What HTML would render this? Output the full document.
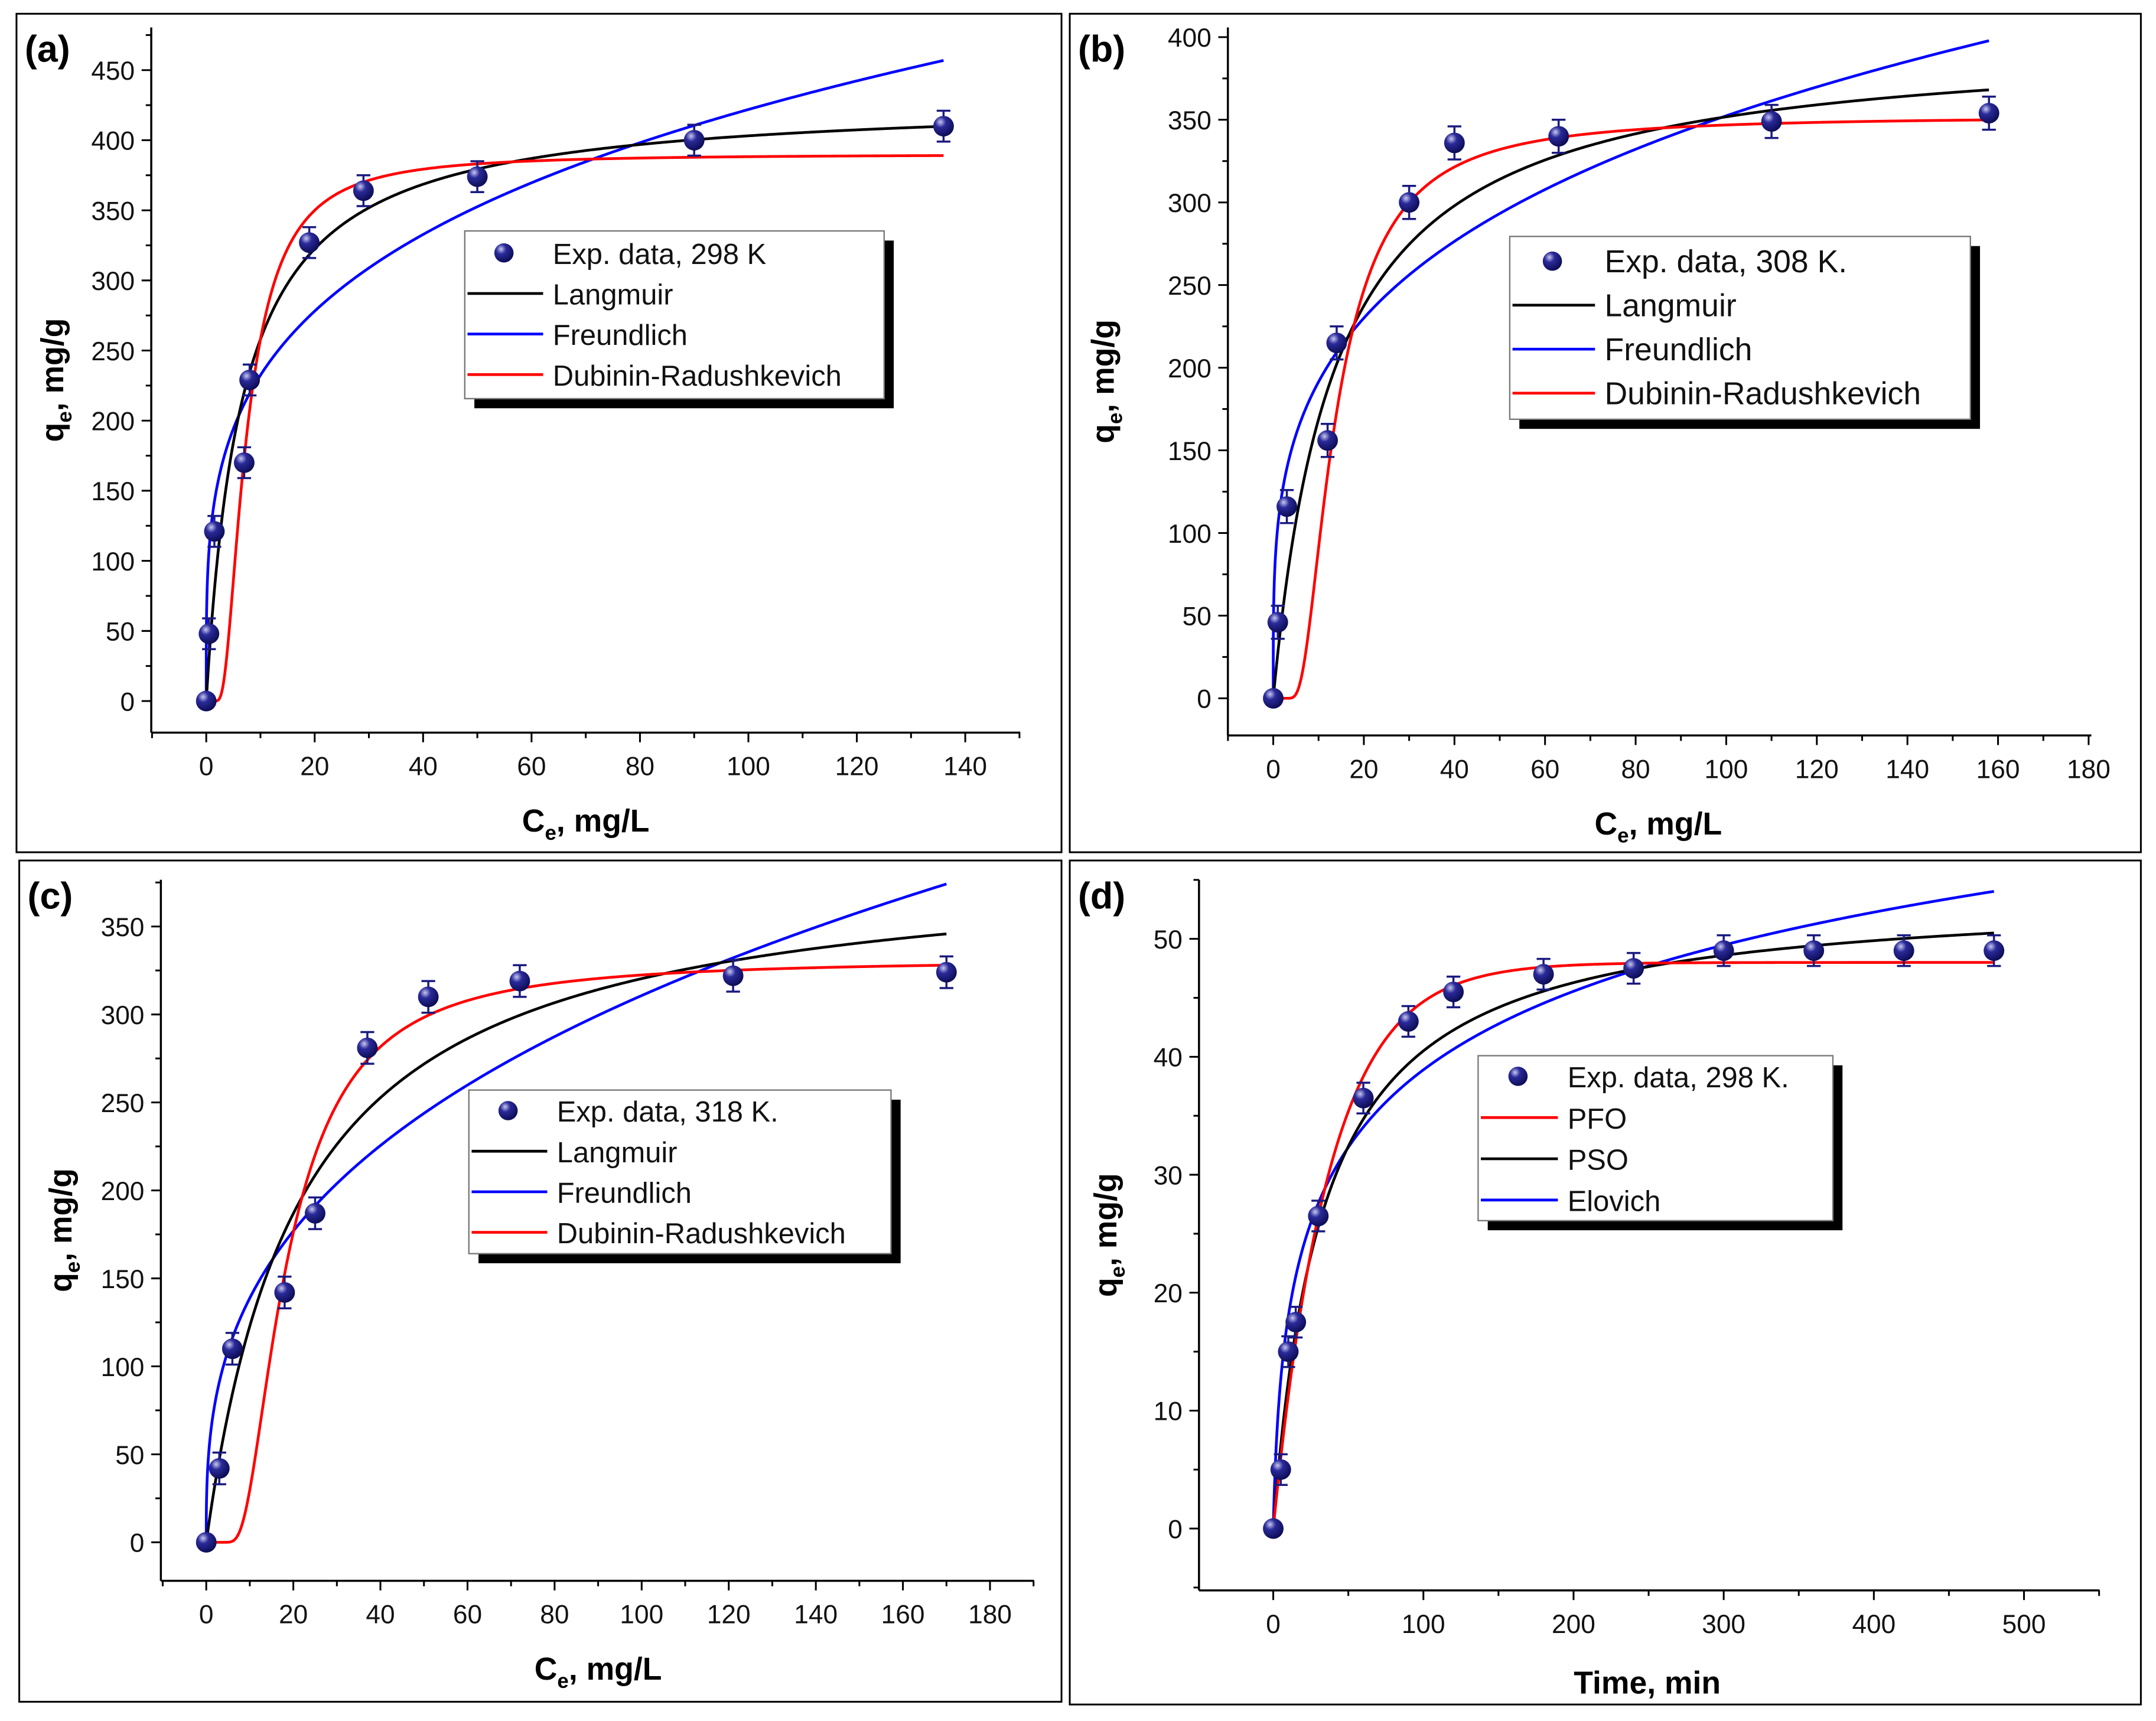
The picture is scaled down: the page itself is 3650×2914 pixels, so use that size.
<!DOCTYPE html>
<html><head><meta charset="utf-8"><style>html,body{margin:0;padding:0;background:#fff}svg{display:block}</style></head>
<body>
<svg id="fig" xmlns="http://www.w3.org/2000/svg" width="3650" height="2914" viewBox="0 0 1568 1252" preserveAspectRatio="none" font-family="'Liberation Sans', Arial, sans-serif">
<defs>
<radialGradient id="ball" cx="0.35" cy="0.3" r="0.75"><stop offset="0" stop-color="#c8c8f0"/><stop offset="0.35" stop-color="#2a2a9a"/><stop offset="1" stop-color="#0a0a50"/></radialGradient>
</defs>
<rect width="1568" height="1252" fill="#fff"/>
</svg>
<script>
// Panel (a) data – 298 K isotherm
const aCe = [0, 0.5, 1.5, 7, 8, 19, 29, 50, 90, 136];
const aQe = [0, 48, 121, 170, 229, 327, 364, 374, 400, 410];
// Panel (b) data – 308 K isotherm
const bCe = [0, 1, 3, 12, 14, 30, 40, 63, 110, 158];
const bQe = [0, 46, 116, 156, 215, 300, 336, 340, 349, 354];
// Panel (c) data – 318 K isotherm
const cCe = [0, 3, 6, 18, 25, 37, 51, 72, 121, 170];
const cQe = [0, 42, 110, 142, 187, 281, 310, 319, 322, 324];
// Panel (d) data – kinetics
const dT = [0, 5, 10, 15, 30, 60, 90, 120, 180, 240, 300, 360, 420, 480];
const dQ = [0, 5, 15, 17.5, 26.5, 36.5, 43, 45.5, 47, 47.5, 49, 49, 49, 49];
// Tick labels
const aXTicks = [0, 20, 40, 60, 80, 100, 120, 140];
const aYTicks = [0, 50, 100, 150, 200, 250, 300, 350, 400, 450];
const bXTicks = [0, 20, 40, 60, 80, 100, 120, 140, 160, 180];
const bYTicks = [0, 50, 100, 150, 200, 250, 300, 350, 400];
const cXTicks = [0, 20, 40, 60, 80, 100, 120, 140, 160, 180];
const cYTicks = [0, 50, 100, 150, 200, 250, 300, 350];
const dXTicks = [0, 100, 200, 300, 400, 500];
const dYTicks = [0, 10, 20, 30, 40, 50];
// Fitted model parameters
const aLang = [430, 0.15], aFr = [128, 0.259], aDR = [390, 45.5];
const bLang = [400, 0.073], bFr = [104, 0.265], bDR = [352, 149];
const cLang = [390, 0.046], cFr = [62, 0.35], cDR = [331, 265];
const dPFO = [48, 0.0267], dPSO = [54, 0.03 / 54], dElo = [0.533, 0.1027];

const NS = 'http://www.w3.org/2000/svg';
const svg = document.getElementById('fig');
function mk(tag, attrs, parent) {
  const e = document.createElementNS(NS, tag);
  for (const k in attrs) e.setAttribute(k, attrs[k]);
  (parent || svg).appendChild(e);
  return e;
}
const lang = p => c => p[0] * p[1] * c / (1 + p[1] * c);
const freu = p => c => c <= 0 ? 0 : p[0] * Math.pow(c, p[1]);
const dr = p => c => { if (c <= 0) return 0; const e = Math.log(1 + 1 / c); return p[0] * Math.exp(-p[1] * e * e); };
const pfo = p => t => p[0] * (1 - Math.exp(-p[1] * t));
const pso = p => t => p[0] * p[0] * p[1] * t / (1 + p[0] * p[1] * t);
const elo = p => t => Math.log(1 + p[0] * t) / p[1];

function panel(cfg) {
  const g = mk('g', {});
  
  
  const fr = mk('rect', {x: cfg.frame[0], y: cfg.frame[1], width: cfg.frame[2], height: cfg.frame[3], fill: 'none', stroke: '#000', 'stroke-width': 1.3}, g);
  
  
  const X = v => cfg.x0 + (v - cfg.xmin) / (cfg.xmax - cfg.xmin) * (cfg.x1 - cfg.x0);
  const Y = v => cfg.y0 - (v - cfg.ymin) / (cfg.ymax - cfg.ymin) * (cfg.y0 - cfg.y1);
  const ax = mk('line', {x1: cfg.axL, y1: cfg.axB, x2: cfg.axR, y2: cfg.axB, stroke: '#000', 'stroke-width': 1.5}, g);
  
  
  const ay = mk('line', {x1: cfg.axL, y1: cfg.axB, x2: cfg.axL, y2: cfg.axT, stroke: '#000', 'stroke-width': 1.5}, g);
  
  
  const xs = cfg.xt[1] - cfg.xt[0];
  for (let v = cfg.xt[0] - xs; v <= cfg.xt[cfg.xt.length - 1] + xs; v += xs / 2) {
    const px = X(v);
    if (px < cfg.axL - 0.5 || px > cfg.axR + 0.5) continue;
    const major = cfg.xt.includes(v);
    mk('line', {x1: px, y1: cfg.axB, x2: px, y2: cfg.axB + (major ? 7 : 4), stroke: '#000', 'stroke-width': 1.3}, g);
  }
  cfg.xt.forEach(v => {
    const t = mk('text', {x: X(v), y: cfg.axB + 31, 'font-size': 19, 'text-anchor': 'middle', fill: '#111'}, g);
    t.textContent = v;
    
    
  });
  const ys = cfg.yt[1] - cfg.yt[0];
  for (let v = cfg.yt[0] - ys; v <= cfg.yt[cfg.yt.length - 1] + ys; v += ys / 2) {
    const py = Y(v);
    if (py > cfg.axB + 0.5 || py < cfg.axT - 0.5) continue;
    const major = cfg.yt.includes(v);
    mk('line', {x1: cfg.axL, y1: py, x2: cfg.axL - (major ? 7 : 4), y2: py, stroke: '#000', 'stroke-width': 1.3}, g);
  }
  cfg.yt.forEach(v => {
    const t = mk('text', {x: cfg.axL - 12, y: Y(v) + 7, 'font-size': 19, 'text-anchor': 'end', fill: '#111'}, g);
    t.textContent = v;
    
    
  });
  const xt = mk('text', {x: cfg.xtX, y: cfg.xtY, 'font-size': 23, 'font-weight': 'bold', 'text-anchor': 'middle'}, g);
  
  
  if (cfg.xTitle) { xt.textContent = cfg.xTitle; }
  else {
    mk('tspan', {}, xt).textContent = 'C';
    mk('tspan', {'font-size': 15, dy: 6}, xt).textContent = 'e';
    mk('tspan', {dy: -6}, xt).textContent = ', mg/L';
  }
  const yt = mk('text', {transform: `translate(${cfg.ytX},${(cfg.axT + cfg.axB) / 2}) rotate(-90)`, 'font-size': 23, 'font-weight': 'bold', 'text-anchor': 'middle'}, g);
  
  
  mk('tspan', {}, yt).textContent = 'q';
  mk('tspan', {'font-size': 15, dy: 6}, yt).textContent = 'e';
  mk('tspan', {dy: -6}, yt).textContent = ', mg/g';
  const pl = mk('text', {x: cfg.frame[0] + 6, y: cfg.frame[1] + 35, 'font-size': 27, 'font-weight': 'bold'}, g);
  pl.textContent = cfg.label;
  
  
  cfg.curves.forEach(cv => {
    let d = '';
    const N = 600;
    for (let i = 0; i <= N; i++) {
      const c = cfg.cx0 + (cfg.cx1 - cfg.cx0) * Math.pow(i / N, 2);
      const v = Math.min(cv.f(c), cfg.ymax * 1.2);
      let py = Y(v);
      if (py < cfg.axT) py = cfg.axT;
      d += (i ? 'L' : 'M') + X(c).toFixed(2) + ',' + py.toFixed(2);
    }
    const p = mk('path', {d, fill: 'none', stroke: cv.color, 'stroke-width': 2}, g);
    
    
  });
  cfg.px.forEach((xv, i) => {
    const cx = X(xv), cy = Y(cfg.py[i]);
    if (cfg.py[i] > 0) {
      const e = cfg.err * (cfg.y0 - cfg.y1) / (cfg.ymax - cfg.ymin);
      const eb = mk('path', {d: `M${cx},${cy - e}V${cy + e}M${cx - 5},${cy - e}H${cx + 5}M${cx - 5},${cy + e}H${cx + 5}`, stroke: '#1a1a80', 'stroke-width': 1.5, fill: 'none'}, g);
      
      
    }
    const c = mk('circle', {cx, cy, r: 7.5, fill: 'url(#ball)'}, g);
    
    
  });
  const L = cfg.leg;
  const lg = mk('g', {}, g);
  
  
  mk('rect', {x: L.x + 7, y: L.y + 7, width: L.w, height: L.h, fill: '#000'}, lg);
  mk('rect', {x: L.x, y: L.y, width: L.w, height: L.h, fill: '#fff', stroke: '#777', 'stroke-width': 1}, lg);
  L.items.forEach((it, i) => {
    const yy = L.y + L.top + i * L.step;
    if (it.color) mk('line', {x1: L.x + 2, y1: yy, x2: L.x + L.lw, y2: yy, stroke: it.color, 'stroke-width': 2}, lg);
    else mk('circle', {cx: L.x + L.lw / 2, cy: yy, r: 7, fill: 'url(#ball)'}, lg);
    const t = mk('text', {x: L.x + L.lw + 7, y: yy + 8, 'font-size': L.fs, fill: '#111'}, lg);
    t.textContent = it.text;
    
    
  });
}

panel({name: 'panel-a', label: '(a)', frame: [12, 10, 760, 610],
  axL: 110, axR: 742, axB: 533, axT: 20,
  xmin: 0, xmax: 140, x0: 150, x1: 702, ymin: 0, ymax: 450, y0: 510, y1: 51,
  xt: aXTicks, yt: aYTicks, xtX: 426, xtY: 605, ytX: 46,
  cx0: 0, cx1: 136, px: aCe, py: aQe, err: 11,
  curves: [{f: freu(aFr), color: '#0000ff', name: 'freundlich'}, {f: lang(aLang), color: '#000', name: 'langmuir'}, {f: dr(aDR), color: '#ff0000', name: 'dubinin-radushkevich'}],
  leg: {x: 338, y: 168, w: 305, h: 122, top: 16, step: 29.5, lw: 57, fs: 21,
    items: [{text: 'Exp. data, 298 K'}, {text: 'Langmuir', color: '#000'}, {text: 'Freundlich', color: '#0000ff'}, {text: 'Dubinin-Radushkevich', color: '#ff0000'}]}});

panel({name: 'panel-b', label: '(b)', frame: [778, 10, 779, 610],
  axL: 893, axR: 1521, axB: 535, axT: 20,
  xmin: 0, xmax: 180, x0: 926, x1: 1519, ymin: 0, ymax: 400, y0: 508, y1: 27,
  xt: bXTicks, yt: bYTicks, xtX: 1206, xtY: 607, ytX: 810,
  cx0: 0, cx1: 158, px: bCe, py: bQe, err: 10,
  curves: [{f: freu(bFr), color: '#0000ff', name: 'freundlich'}, {f: lang(bLang), color: '#000', name: 'langmuir'}, {f: dr(bDR), color: '#ff0000', name: 'dubinin-radushkevich'}],
  leg: {x: 1098, y: 172, w: 335, h: 133, top: 18, step: 32, lw: 62, fs: 23,
    items: [{text: 'Exp. data, 308 K.'}, {text: 'Langmuir', color: '#000'}, {text: 'Freundlich', color: '#0000ff'}, {text: 'Dubinin-Radushkevich', color: '#ff0000'}]}});

panel({name: 'panel-c', label: '(c)', frame: [14, 626, 758, 612],
  axL: 117, axR: 752, axB: 1150, axT: 640,
  xmin: 0, xmax: 180, x0: 150, x1: 720, ymin: 0, ymax: 350, y0: 1122, y1: 674,
  xt: cXTicks, yt: cYTicks, xtX: 435, xtY: 1222, ytX: 52,
  cx0: 0, cx1: 170, px: cCe, py: cQe, err: 9,
  curves: [{f: freu(cFr), color: '#0000ff', name: 'freundlich'}, {f: lang(cLang), color: '#000', name: 'langmuir'}, {f: dr(cDR), color: '#ff0000', name: 'dubinin-radushkevich'}],
  leg: {x: 341, y: 793, w: 307, h: 119, top: 15, step: 29.5, lw: 57, fs: 21,
    items: [{text: 'Exp. data, 318 K.'}, {text: 'Langmuir', color: '#000'}, {text: 'Freundlich', color: '#0000ff'}, {text: 'Dubinin-Radushkevich', color: '#ff0000'}]}});

panel({name: 'panel-d', label: '(d)', frame: [778, 626, 779, 614],
  axL: 872, axR: 1527, axB: 1157, axT: 640,
  xmin: 0, xmax: 500, x0: 926, x1: 1472, ymin: 0, ymax: 50, y0: 1112, y1: 683,
  xt: dXTicks, yt: dYTicks, xtX: 1198, xtY: 1232, ytX: 812, xTitle: 'Time, min',
  cx0: 0, cx1: 480, px: dT, py: dQ, err: 1.3,
  curves: [{f: elo(dElo), color: '#0000ff', name: 'elovich'}, {f: pso(dPSO), color: '#000', name: 'pso'}, {f: pfo(dPFO), color: '#ff0000', name: 'pfo'}],
  leg: {x: 1075, y: 768, w: 258, h: 120, top: 15, step: 30, lw: 58, fs: 21,
    items: [{text: 'Exp. data, 298 K.'}, {text: 'PFO', color: '#ff0000'}, {text: 'PSO', color: '#000'}, {text: 'Elovich', color: '#0000ff'}]}});
</script>
</body></html>
